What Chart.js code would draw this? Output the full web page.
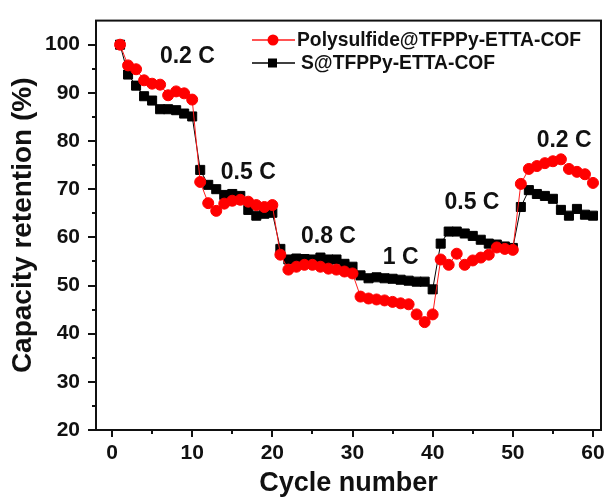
<!DOCTYPE html>
<html>
<head>
<meta charset="utf-8">
<script src="https://cdn.jsdelivr.net/npm/chart.js@4.4.1/dist/chart.umd.min.js"></script>
<style>
  body { margin: 0; background: #fff; }
  canvas { display: block; }
</style>
</head>
<body>
<canvas id="rate_chart" width="610" height="498"></canvas>
<script>
var cycles = [1, 2, 3, 4, 5, 6, 7, 8, 9, 10,
              11, 12, 13, 14, 15, 16, 17, 18, 19, 20,
              21, 22, 23, 24, 25, 26, 27, 28, 29, 30,
              31, 32, 33, 34, 35, 36, 37, 38, 39, 40,
              41, 42, 43, 44, 45, 46, 47, 48, 49, 50,
              51, 52, 53, 54, 55, 56, 57, 58, 59, 60];

var polysulfide_cof = [100, 95.7, 94.9, 92.6, 91.9, 91.7, 89.5, 90.3, 89.9, 88.6,
                       71.5, 67.1, 65.5, 67.0, 67.6, 67.8, 67.4, 66.7, 66.3, 66.7,
                       56.4, 53.3, 53.9, 54.3, 54.3, 53.9, 53.5, 53.3, 52.9, 52.5,
                       47.7, 47.3, 47.1, 46.9, 46.6, 46.3, 46.1, 44.0, 42.4, 44.0,
                       55.4, 54.3, 56.6, 54.3, 55.2, 55.8, 56.4, 57.9, 57.6, 57.4,
                       71.1, 74.2, 74.8, 75.4, 75.8, 76.2, 74.2, 73.6, 73.1, 71.3];

var sulfur_cof = [100, 93.8, 91.5, 89.3, 88.4, 86.6, 86.6, 86.4, 85.7, 85.1,
                  74.0, 70.9, 70.0, 68.8, 69.0, 68.6, 65.7, 64.5, 64.9, 65.1,
                  57.6, 55.4, 55.6, 55.5, 55.4, 55.8, 55.4, 55.4, 54.5, 53.9,
                  52.1, 51.5, 51.7, 51.5, 51.4, 51.2, 51.0, 50.8, 50.8, 49.2,
                  58.7, 61.2, 61.2, 60.8, 60.3, 59.5, 58.7, 58.5, 58.1, 57.8,
                  66.3, 69.8, 69.0, 68.6, 68.0, 65.7, 64.5, 65.9, 64.7, 64.5];

var series_names = ["Polysulfide@TFPPy-ETTA-COF", "S@TFPPy-ETTA-COF"];

// current rate labels, placed in data coordinates
var rate_text = ["0.2 C", "0.5 C", "0.8 C", "1 C", "0.5 C", "0.2 C"];
var rate_x = [9.4, 17.0, 27.0, 36.0, 44.9, 56.4];
var rate_y = [97.5, 73.4, 60.2, 55.7, 67.2, 80.0];

var font_family = "Arial, 'Liberation Sans', sans-serif";

function toPoints(values)
{
    var pts = [];
    for (var i = 0; i < cycles.length; i++) {
        pts.push({ x: cycles[i], y: values[i] });
    }
    return pts;
}

// frame box plus outward major/minor tick marks
var frame_plugin = {
    id: "frame",
    afterDraw: function(chart) {
        var ctx = chart.ctx;
        var area = chart.chartArea;
        var xs = chart.scales.x;
        var ys = chart.scales.y;
        ctx.save();
        ctx.strokeStyle = "#111";
        ctx.lineWidth = 2;
        ctx.strokeRect(area.left, area.top, area.right - area.left, area.bottom - area.top);
        ctx.beginPath();
        xs.ticks.forEach(function(t) {
            var px = Math.round(xs.getPixelForValue(t.value));
            var len = (t.value % 10 === 0) ? 7 : 4;
            ctx.moveTo(px, area.bottom);
            ctx.lineTo(px, area.bottom + len);
        });
        ys.ticks.forEach(function(t) {
            if (t.value > 100) return;
            var py = Math.round(ys.getPixelForValue(t.value));
            var len = (t.value % 10 === 0) ? 8 : 4;
            ctx.moveTo(area.left, py);
            ctx.lineTo(area.left - len, py);
        });
        ctx.stroke();
        ctx.restore();
    }
};

// rate annotations and the legend box in the upper right
var text_plugin = {
    id: "rate_text",
    afterDatasetsDraw: function(chart) {
        var ctx = chart.ctx;
        var xs = chart.scales.x;
        var ys = chart.scales.y;
        ctx.save();
        ctx.fillStyle = "#111";
        ctx.font = "bold 23px " + font_family;
        ctx.textAlign = "center";
        ctx.textBaseline = "middle";
        for (var i = 0; i < rate_text.length; i++) {
            ctx.fillText(rate_text[i], xs.getPixelForValue(rate_x[i]), ys.getPixelForValue(rate_y[i]));
        }

        // legend
        var rows = [40, 63];
        var text_left = [297, 301];
        ctx.font = "bold 19.3px " + font_family;
        ctx.textAlign = "left";
        chart.data.datasets.forEach(function(ds, k) {
            var y = rows[k];
            ctx.strokeStyle = ds.borderColor;
            ctx.lineWidth = 1.5;
            ctx.beginPath();
            ctx.moveTo(252, y);
            ctx.lineTo(295, y);
            ctx.stroke();
            ctx.fillStyle = ds.pointBackgroundColor;
            if (ds.pointStyle === "rect") {
                ctx.fillRect(268, y - 4.5, 9, 9);
            } else {
                ctx.beginPath();
                ctx.arc(273, y, 5.5, 0, Math.PI * 2);
                ctx.fill();
            }
            ctx.fillStyle = "#111";
            ctx.fillText(ds.label, text_left[k], y + 1);
        });
        ctx.restore();
    }
};

var tick_font = { family: font_family, size: 21, weight: "bold" };
var title_font = { family: font_family, size: 28, weight: "bold", lineHeight: 1 };

var ctx = document.getElementById("rate_chart");

var chart = new Chart(ctx, {
    type: "line",
    data: {
        datasets: [
            {
                label: series_names[0],
                data: toPoints(polysulfide_cof),
                borderColor: "#ff1a1a",
                backgroundColor: "#ff0000",
                pointBackgroundColor: "#ff0000",
                pointBorderColor: "#ff0000",
                pointStyle: "circle",
                pointRadius: 5.5,
                borderWidth: 1,
                fill: false,
                tension: 0
            },
            {
                label: series_names[1],
                data: toPoints(sulfur_cof),
                borderColor: "#000000",
                backgroundColor: "#000000",
                pointBackgroundColor: "#000000",
                pointBorderColor: "#000000",
                pointStyle: "rect",
                pointRadius: 6.4,
                borderWidth: 1,
                fill: false,
                tension: 0
            }
        ]
    },
    options: {
        responsive: false,
        animation: false,
        layout: { padding: { top: 17, right: 9, left: 0, bottom: 0 } },
        plugins: {
            legend: { display: false },
            tooltip: { enabled: false }
        },
        scales: {
            x: {
                type: "linear",
                min: -2,
                max: 61,
                afterFit: function(scale) { scale.height = 68; },
                border: { display: false },
                grid: { drawOnChartArea: false, tickLength: 7, color: "transparent", tickColor: "transparent" },
                ticks: {
                    stepSize: 5,
                    includeBounds: false,
                    autoSkip: false,
                    maxRotation: 0,
                    padding: 4,
                    color: "#111",
                    font: tick_font,
                    callback: function(v) { return v % 10 === 0 ? v : ""; }
                },
                title: {
                    display: true,
                    text: "Cycle number",
                    color: "#111",
                    font: { family: font_family, size: 27, weight: "bold", lineHeight: 1 },
                    padding: { top: 0, bottom: 1 }
                }
            },
            y: {
                min: 20,
                max: 105,
                afterFit: function(scale) { scale.width = 96; },
                border: { display: false },
                grid: { drawOnChartArea: false, tickLength: 8, color: "transparent", tickColor: "transparent" },
                ticks: {
                    stepSize: 5,
                    includeBounds: false,
                    autoSkip: false,
                    padding: 8,
                    color: "#111",
                    font: tick_font,
                    callback: function(v) { return (v % 10 === 0 && v <= 100) ? v : ""; }
                },
                title: {
                    display: true,
                    text: "Capacity retention (%)",
                    color: "#111",
                    font: title_font,
                    padding: { top: 9, bottom: 0 }
                }
            }
        }
    },
    plugins: [frame_plugin, text_plugin]
});
</script>
</body>
</html>
